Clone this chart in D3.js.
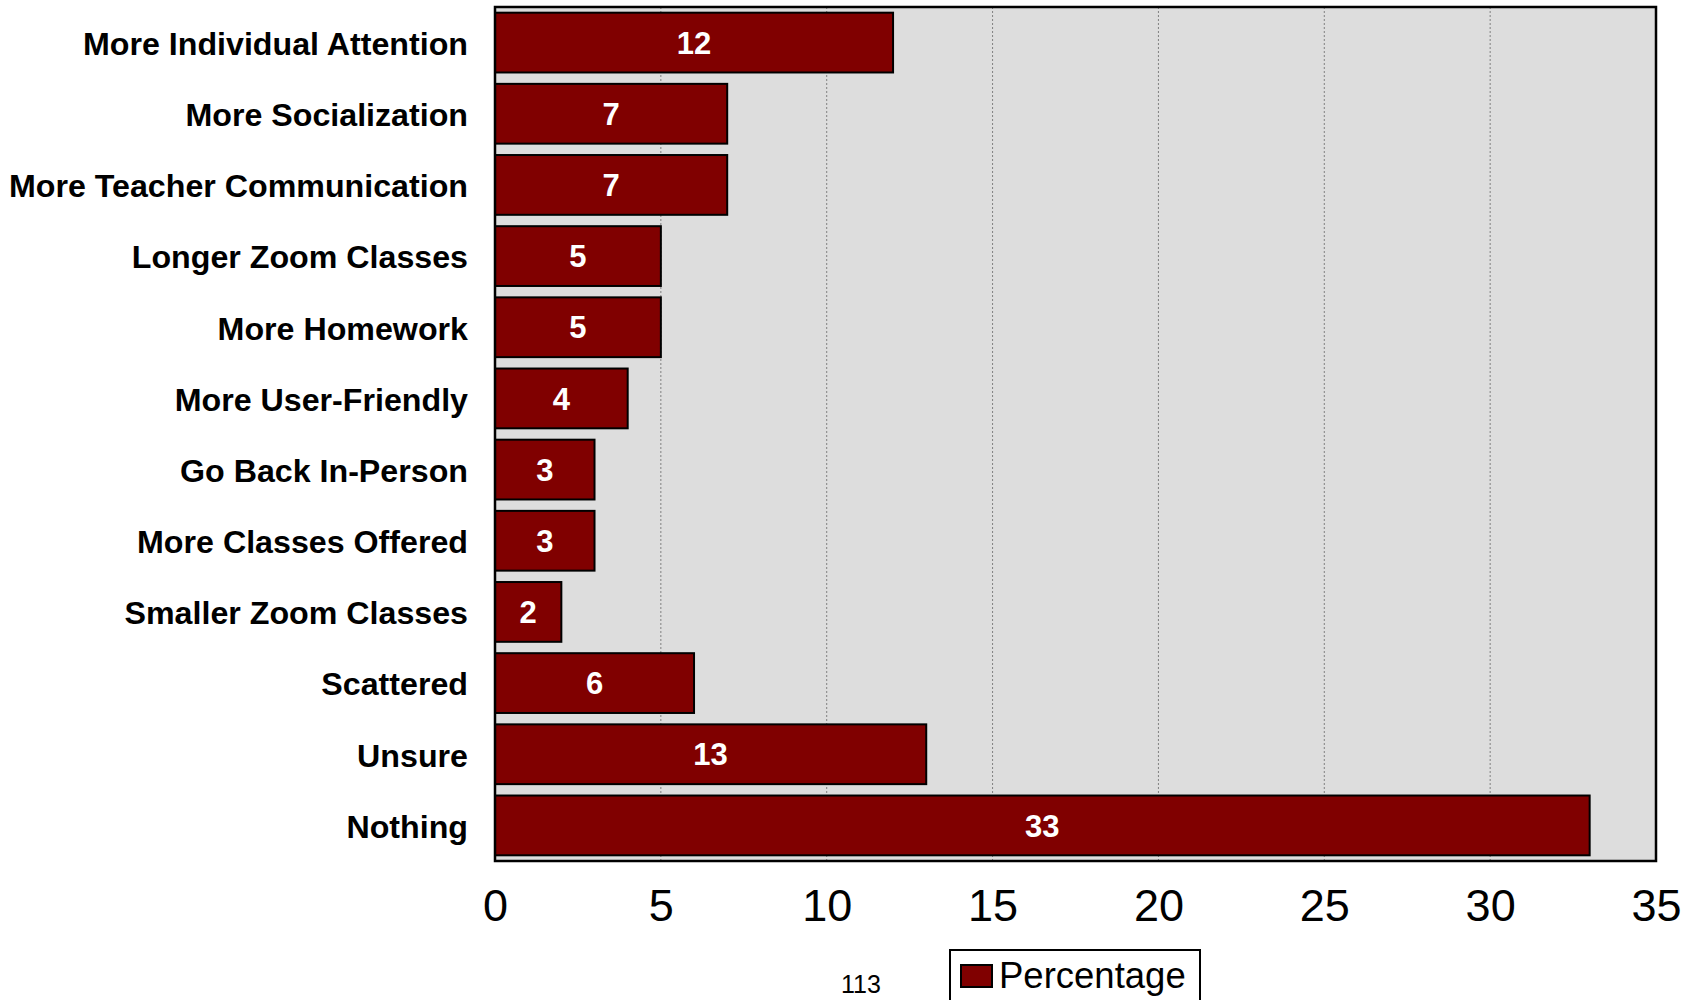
<!DOCTYPE html>
<html>
<head>
<meta charset="utf-8">
<script src="https://cdn.jsdelivr.net/npm/d3@7"></script>
<style>
  html, body { margin: 0; padding: 0; background: #fff; }
  svg { display: block; font-family: "Liberation Sans", Arial, sans-serif; }
</style>
</head>
<body>
<svg id="chart" width="1698" height="1000"></svg>
<script>
const categories = [
  "More Individual Attention",
  "More Socialization",
  "More Teacher Communication",
  "Longer Zoom Classes",
  "More Homework",
  "More User-Friendly",
  "Go Back In-Person",
  "More Classes Offered",
  "Smaller Zoom Classes",
  "Scattered",
  "Unsure",
  "Nothing"
];
const percentages = [12, 7, 7, 5, 5, 4, 3, 3, 2, 6, 13, 33];
const xTicks = [0, 5, 10, 15, 20, 25, 30, 35];
const seriesName = "Percentage";
const footnote = "113";

(function () {
const svg = d3.select("#chart");
const pL = 495, pR = 1656, pT = 7, pB = 861;

const x = d3.scaleLinear().domain([0, 35]).range([pL, pR]);
const y = d3.scaleBand().domain(categories).range([pT, pB])
  .paddingInner(0.16).paddingOuter(0.08);

// plot background
svg.append("rect")
  .attr("x", pL).attr("y", pT)
  .attr("width", pR - pL).attr("height", pB - pT)
  .attr("fill", "#dddddd");

// gridlines
svg.append("g").selectAll("line")
  .data(xTicks.filter(t => t > 0 && t < 35))
  .join("line")
  .attr("x1", d => x(d)).attr("x2", d => x(d))
  .attr("y1", pT).attr("y2", pB)
  .attr("stroke", "#808080").attr("stroke-width", 1)
  .attr("stroke-dasharray", "2,2");

// bars
svg.append("g").selectAll("rect")
  .data(categories)
  .join("rect")
  .attr("x", x(0))
  .attr("y", d => y(d))
  .attr("width", (d, i) => x(percentages[i]) - x(0))
  .attr("height", y.bandwidth())
  .attr("fill", "#800000")
  .attr("stroke", "#000").attr("stroke-width", 2);

// value labels
svg.append("g").selectAll("text")
  .data(categories)
  .join("text")
  .attr("x", (d, i) => (x(0) + x(percentages[i])) / 2)
  .attr("y", d => y(d) + y.bandwidth() / 2)
  .attr("dy", "0.36em")
  .attr("text-anchor", "middle")
  .attr("fill", "#fff")
  .attr("font-weight", "bold")
  .attr("font-size", 31)
  .text((d, i) => percentages[i]);

// frame
svg.append("rect")
  .attr("x", pL).attr("y", pT)
  .attr("width", pR - pL).attr("height", pB - pT)
  .attr("fill", "none").attr("stroke", "#000").attr("stroke-width", 2.5);

// y axis labels
const yAxis = d3.axisLeft(y).tickSize(0).tickPadding(27);
const gy = svg.append("g").attr("transform", `translate(${pL},0)`).call(yAxis);
gy.select(".domain").remove();
gy.selectAll("text")
  .attr("font-size", 32.2).attr("font-weight", "bold")
  .attr("fill", "#000")
  .attr("dy", "0.38em")
  .attr("font-family", "'Liberation Sans', Arial, sans-serif");

// x axis labels
const xAxis = d3.axisBottom(x).tickValues(xTicks).tickSize(0).tickPadding(28);
const gx = svg.append("g").attr("transform", `translate(0,${pB})`).call(xAxis);
gx.select(".domain").remove();
gx.selectAll("text")
  .attr("font-size", 45)
  .attr("fill", "#000")
  .attr("font-family", "'Liberation Sans', Arial, sans-serif");

// footnote
svg.append("text")
  .attr("x", 861).attr("y", 993)
  .attr("text-anchor", "middle")
  .attr("font-size", 25)
  .attr("fill", "#000")
  .text(footnote);

// legend
const lg = svg.append("g");
lg.append("rect")
  .attr("x", 950).attr("y", 950)
  .attr("width", 250).attr("height", 70)
  .attr("fill", "#fff").attr("stroke", "#000").attr("stroke-width", 2);
lg.append("rect")
  .attr("x", 961).attr("y", 965)
  .attr("width", 31).attr("height", 22)
  .attr("fill", "#800000").attr("stroke", "#000").attr("stroke-width", 2);
lg.append("text")
  .attr("x", 999).attr("y", 988)
  .attr("font-size", 36.5)
  .attr("fill", "#000")
  .text(seriesName);
})();
</script>
</body>
</html>
